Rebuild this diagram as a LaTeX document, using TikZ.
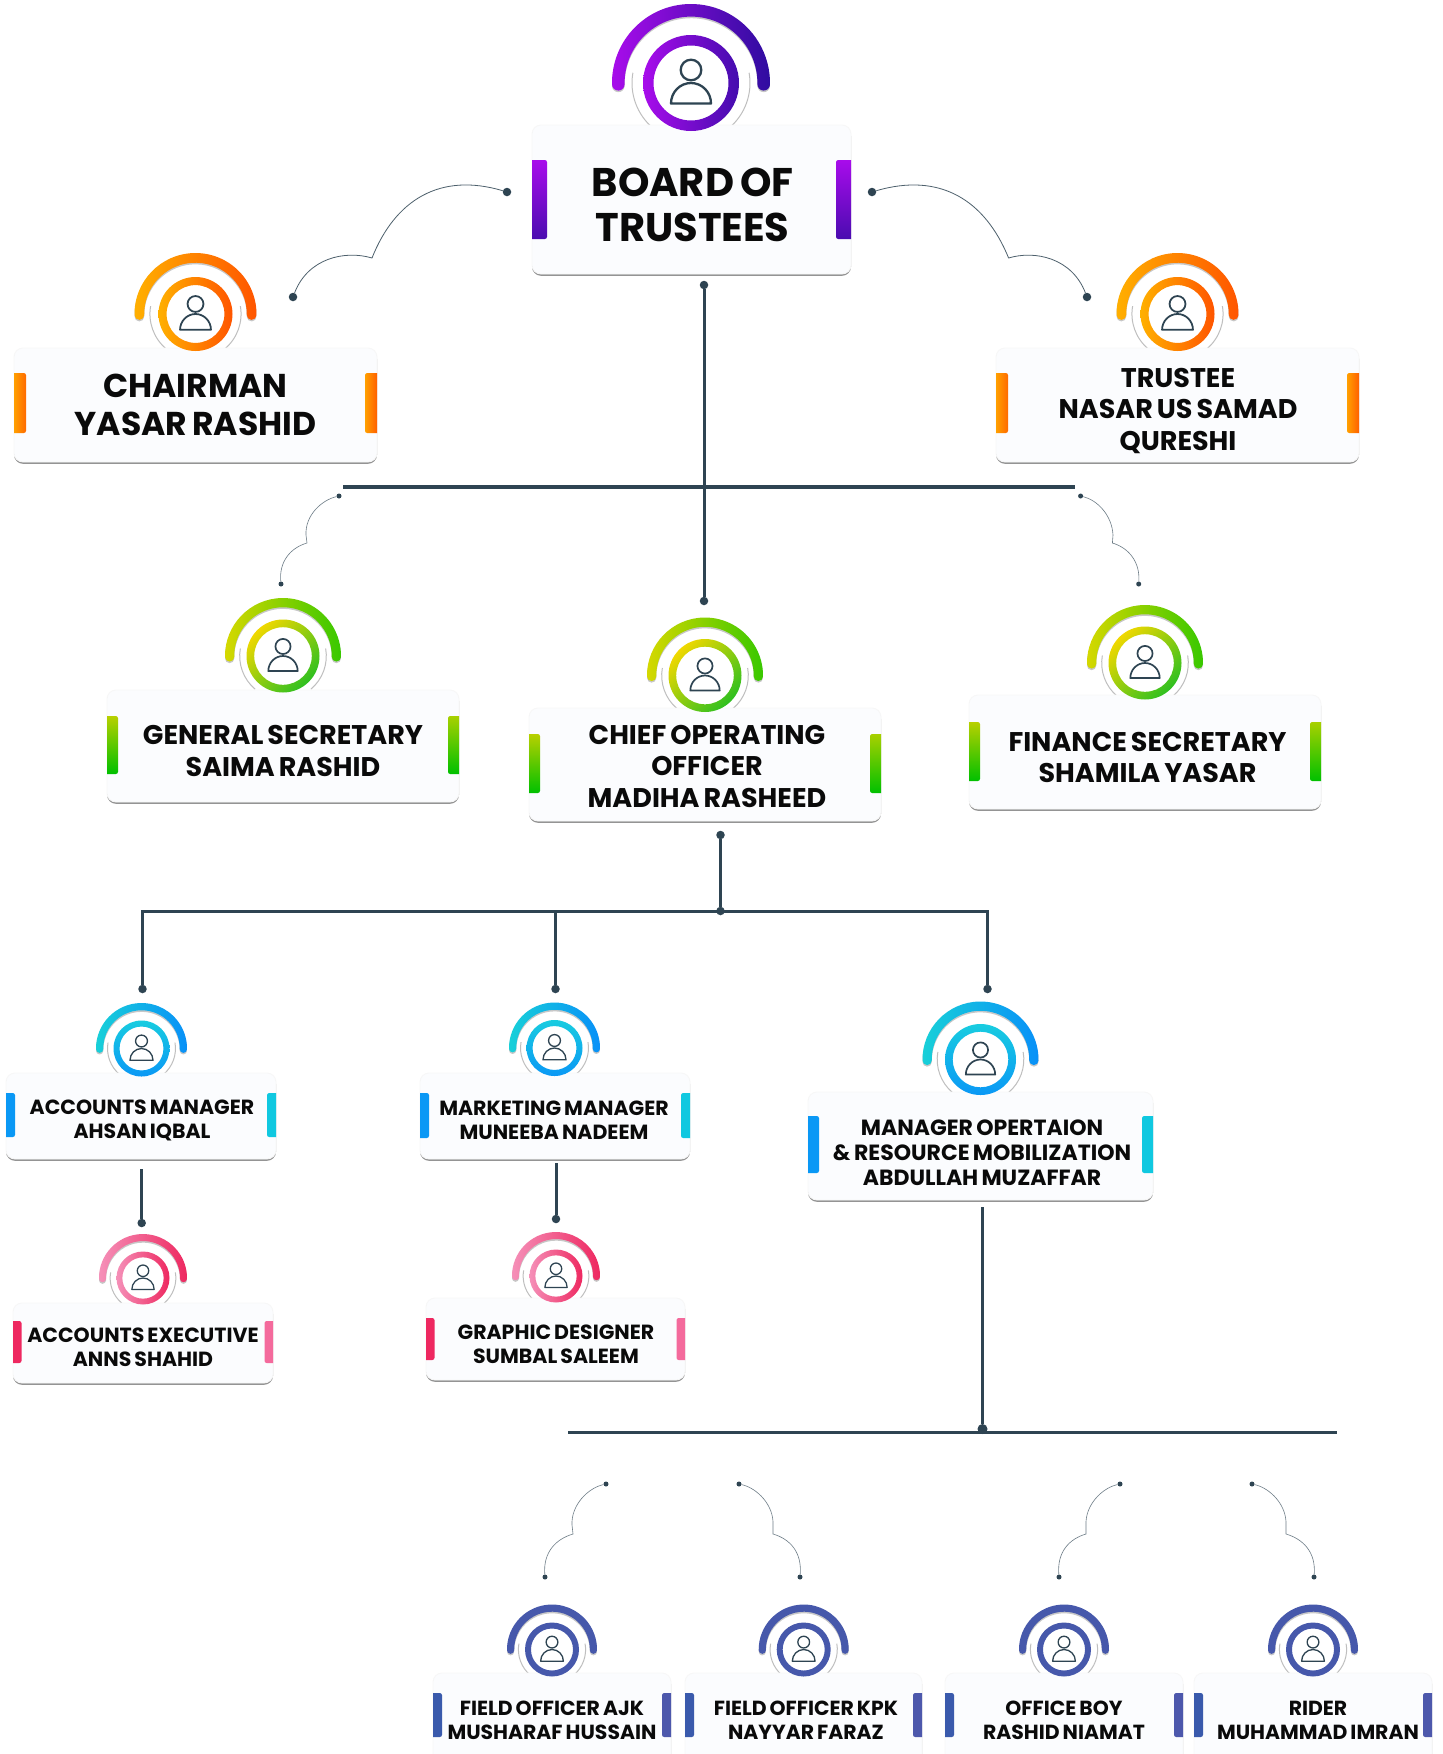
\documentclass[tikz,border=0pt]{standalone}
\usepackage{fontspec}
\newfontfamily\cardfont[WordSpace=0.7]{Poppins}
\definecolor{lnk}{HTML}{2E4452}
\definecolor{cardbg}{HTML}{FBFCFE}
\definecolor{txt}{HTML}{0A0A0A}
\definecolor{A80CEB}{HTML}{A80CEB}\definecolor{2F0CA0}{HTML}{2F0CA0}\definecolor{440CAE}{HTML}{440CAE}
\definecolor{4A0CB0}{HTML}{4A0CB0}\definecolor{FFB000}{HTML}{FFB000}\definecolor{FF5500}{HTML}{FF5500}
\definecolor{FFA000}{HTML}{FFA000}\definecolor{FF6A00}{HTML}{FF6A00}\definecolor{FF6000}{HTML}{FF6000}
\definecolor{D6D800}{HTML}{D6D800}\definecolor{38C800}{HTML}{38C800}\definecolor{F0D800}{HTML}{F0D800}
\definecolor{2EC020}{HTML}{2EC020}\definecolor{B8D000}{HTML}{B8D000}\definecolor{00C000}{HTML}{00C000}
\definecolor{A8D000}{HTML}{A8D000}\definecolor{18D0D8}{HTML}{18D0D8}\definecolor{0890F8}{HTML}{0890F8}
\definecolor{18CCE0}{HTML}{18CCE0}\definecolor{0A98F5}{HTML}{0A98F5}\definecolor{10C8E0}{HTML}{10C8E0}
\definecolor{F590B8}{HTML}{F590B8}\definecolor{EE2860}{HTML}{EE2860}\definecolor{F46A9C}{HTML}{F46A9C}
\definecolor{4658AB}{HTML}{4658AB}\definecolor{3A5AAC}{HTML}{3A5AAC}\definecolor{4D58AC}{HTML}{4D58AC}
\tikzset{
  purplearc/.style={left color=A80CEB,right color=2F0CA0},
  purplering/.style={left color=A80CEB,right color=440CAE},
  purplebarL/.style={top color=A80CEB,bottom color=4A0CB0},
  purplebarR/.style={top color=A80CEB,bottom color=4A0CB0},
  orangearc/.style={left color=FFB000,right color=FF5500},
  orangering/.style={left color=FFB000,right color=FF5500},
  orangebarL/.style={left color=FFA000,right color=FF6A00},
  orangebarR/.style={left color=FFA000,right color=FF6000},
  greenarc/.style={left color=D6D800,right color=38C800},
  greenring/.style={top color=F0D800,bottom color=2EC020,shading angle=45},
  greenbarL/.style={top color=B8D000,bottom color=00C000},
  greenbarR/.style={top color=A8D000,bottom color=00C000},
  bluearc/.style={left color=18D0D8,right color=0890F8},
  bluering/.style={top color=18CCE0,bottom color=0A98F5},
  bluebarL/.style={fill=0A98F5},
  bluebarR/.style={fill=10C8E0},
  pinkarc/.style={left color=F590B8,right color=EE2860},
  pinkring/.style={left color=F590B8,right color=EE2860},
  pinkbarL/.style={fill=EE2860},
  pinkbarR/.style={fill=F46A9C},
  navyarc/.style={fill=4658AB},
  navyring/.style={fill=4658AB},
  navybarL/.style={fill=3A5AAC},
  navybarR/.style={fill=4D58AC},
  cardbox/.style={rectangle,rounded corners=9pt,fill=cardbg,draw=black!3,line width=0.8pt,inner sep=0pt,outer sep=0pt,
     preaction={fill=black!42,transform canvas={yshift=-1.8pt}}},
  cardlabel/.style={align=center,inner sep=0pt,text=txt},
  linkdot/.style={circle,fill=lnk,inner sep=0pt,minimum size=10pt},
  smalldot/.style={circle,fill=lnk,inner sep=0pt,minimum size=5pt},
  middot/.style={circle,fill=lnk,inner sep=0pt,minimum size=8.5pt},
  trunk/.style={draw=lnk,line width=3.2pt},
  stem/.style={draw=lnk,line width=3pt},
  hairlink/.style={draw=lnk!85,line width=0.8pt},
  hairlinksmall/.style={draw=lnk!70,line width=0.6pt},
}
% \Card{id}{theme}{cx,cy,R,ringR}{x0,y0,x1,y1}{by0,by1,bw}{tx,ty,fs,ls}{text}
\def\parseI#1,#2,#3,#4;{\def\cx{#1}\def\cy{#2}\def\Ro{#3}\def\Rr{#4}}
\def\parseB#1,#2,#3,#4;{\def\xa{#1}\def\ya{#2}\def\xb{#3}\def\yb{#4}}
\def\parseS#1,#2,#3;{\def\sa{#1}\def\sb{#2}\def\sw{#3}}
\def\parseT#1,#2,#3,#4;{\def\tx{#1}\def\ty{#2}\def\tfs{#3}\def\tls{#4}}
\newcommand{\Card}[7]{%
  \parseI#3;\parseB#4;\parseS#5;\parseT#6;%
  \pgfmathsetmacro\kk{\Ro/79}
  \pgfmathsetmacro\aw{12.6*\kk}
  \pgfmathsetmacro\Ri{\Ro-\aw}
  \pgfmathsetmacro\Rm{\Ro-\aw/2}
  \pgfmathsetmacro\cap{\aw/2}
  \pgfmathsetmacro\rw{10.5*\kk}
  \pgfmathsetmacro\Rq{\Rr-\rw}
  \pgfmathsetmacro\Rd{59*\kk}
  \pgfmathsetmacro\bw{\xb-\xa}
  \pgfmathsetmacro\bh{\yb-\ya}
  \pgfmathsetmacro\bx{(\xa+\xb)/2}
  \pgfmathsetmacro\by{(\ya+\yb)/2}
  \pgfmathsetmacro\sxa{\xa+\sw}
  \pgfmathsetmacro\sxb{\xb-\sw}
  \fill[white] (\cx,-\cy) circle[radius=\Rd];
  \draw[black!25,line width=1pt] (\cx,-\cy)+(-50:\Rd) arc[start angle=-50,end angle=10,radius=\Rd];
  \draw[black!25,line width=1pt] (\cx,-\cy)+(170:\Rd) arc[start angle=170,end angle=230,radius=\Rd];
  \node[cardbox,minimum width=\bw pt,minimum height=\bh pt] (#1) at (\bx,-\by) {};
  \draw[black,opacity=0.22,line width=\aw pt,line cap=round] (\cx,-\cy)++(0,-1.6)+(-1:\Rm) arc[start angle=-1,end angle=181,radius=\Rm];
  \path[#2arc] (\cx,-\cy)++(181:\Ro) arc[start angle=181,end angle=-1,radius=\Ro]
     arc[start angle=-1,end angle=-181,radius=\cap]
     arc[start angle=-1,end angle=181,radius=\Ri]
     arc[start angle=1,end angle=-179,radius=\cap] -- cycle;
  \fill[white] (\cx,-\cy) circle[radius=\Rq];
  \path[#2ring,even odd rule] (\cx,-\cy) circle[radius=\Rr] circle[radius=\Rq];
  \draw[lnk,line width=2.3*\kk pt,line join=round] (\cx,-\cy)++(0,13*\kk) circle[radius=10.3*\kk];
  \draw[lnk,line width=2.3*\kk pt,line join=round] (\cx,-\cy)++(-20*\kk,-20.5*\kk)
     arc[start angle=180,end angle=0,x radius=20*\kk,y radius=20.5*\kk] -- cycle;
  \path[#2barL] (\xa,-\sa) [rounded corners=2.2pt] -- (\sxa,-\sa) -- (\sxa,-\sb) [sharp corners] -- (\xa,-\sb) -- cycle;
  \path[#2barR] (\xb,-\sb) [rounded corners=2.2pt] -- (\sxb,-\sb) -- (\sxb,-\sa) [sharp corners] -- (\xb,-\sa) -- cycle;
  \node[cardlabel,font=\cardfont\bfseries\fontsize{\tfs}{\tls}\selectfont] (#1-t) at (\tx,-\ty) {#7};
}
\begin{document}
\begin{tikzpicture}[x=1pt,y=1pt]
\useasboundingbox (0,0) rectangle (1443,-1754);
\fill[white] (0,0) rectangle (1443,-1754);
\clip (0,0) rectangle (1443,-1754);

\Card{board}{purple}{691,83,79,48}{532,125,851,274}{160,239,15}{692.5,205,40,45}{BOARD OF\\TRUSTEES}
\Card{chair}{orange}{195.5,314,61,37}{14,348,377,462}{373,433,12}{195.5,404.5,33,38}{CHAIRMAN\\YASAR RASHID}
\Card{trustee}{orange}{1177.5,314,61,37}{996,348,1359,462}{373,433,12}{1178,410.5,27,31.5}{TRUSTEE\\NASAR US SAMAD\\QURESHI}
\Card{gensec}{green}{283,656,58,36.5}{107,690,459,802}{716,774,11}{283,750.5,27,32}{GENERAL SECRETARY\\SAIMA RASHID}
\Card{coo}{green}{705,675.5,58,36.5}{529,708,881,821}{734,793,11}{707,766,27,31.5}{CHIEF OPERATING\\OFFICER\\MADIHA RASHEED}
\Card{finsec}{green}{1145,663,58,36.5}{969,695,1321,809}{722,781,11}{1147.5,757.5,27,31.5}{FINANCE SECRETARY\\SHAMILA YASAR}
\Card{accmgr}{blue}{141.5,1048.5,45.5,28}{6,1073,276,1159}{1093,1137,9}{142,1120,20.5,24}{ACCOUNTS MANAGER\\AHSAN IQBAL}
\Card{mktmgr}{blue}{554.5,1048,45.5,28}{420,1073,690,1159}{1093,1138,9}{554,1120.5,20.5,24}{MARKETING MANAGER\\MUNEEBA NADEEM}
\Card{opsmgr}{blue}{980.5,1059.5,58,35.5}{808,1092,1153,1200}{1116,1173,11}{982,1152.5,22,25}{MANAGER OPERTAION\\\&\,RESOURCE MOBILIZATION\\ABDULLAH MUZAFFAR}
\Card{accexe}{pink}{143,1278,44,26.5}{13,1303,273,1383}{1321,1363,8.5}{143,1347,20.5,24}{ACCOUNTS EXECUTIVE\\ANNS SHAHID}
\Card{graphic}{pink}{556,1276,44,26.5}{426,1298,685,1380}{1318,1360,8.5}{556,1344,20.5,24}{GRAPHIC DESIGNER\\SUMBAL SALEEM}
\Card{fieldajk}{navy}{552,1649.5,45,27}{433,1673,671,1790}{1693,1737,9}{552,1720,20.4,24}{FIELD OFFICER AJK\\MUSHARAF HUSSAIN}
\Card{fieldkpk}{navy}{803.7,1649.5,45,27}{685,1673,922,1790}{1693,1737,9}{806,1720,20.4,24}{FIELD OFFICER KPK\\NAYYAR FARAZ}
\Card{office}{navy}{1064,1649.5,45,27}{945,1673,1183,1790}{1693,1737,9}{1064,1720,20.4,24}{OFFICE BOY\\RASHID NIAMAT}
\Card{rider}{navy}{1313,1649.5,45,27}{1194,1673,1432,1790}{1693,1737,9}{1318,1720,20.4,24}{RIDER\\MUHAMMAD IMRAN}

% board links
\node[middot] (bl) at (507,-192) {};
\coordinate (blk) at (372,-258);
\node[middot] (bld) at (293,-297) {};
\draw[hairlink] (bl) .. controls (440,-172) and (395,-200) .. (blk) .. controls (345,-250) and (308,-258) .. (bld);
\node[middot] (br) at (872,-192) {};
\coordinate (brk) at (1008.6,-258);
\node[middot] (brd) at (1087,-297) {};
\draw[hairlink] (br) .. controls (940,-172) and (985,-200) .. (brk) .. controls (1035,-250) and (1072,-258) .. (brd);

% main trunk
\node[middot] (t1) at (704,-285) {};
\node[middot] (t2) at (704,-601) {};
\draw[stem] (t1) -- (t2);
\coordinate (h1a) at (343,-487);
\coordinate (h1b) at (1074.5,-487);
\draw[trunk] (h1a) -- (h1b);

% second row hairlines
\node[smalldot] (gl) at (339,-496) {};
\coordinate (glk) at (307,-543);
\coordinate (glk0) at (306,-535);
\node[smalldot] (gld) at (281,-584) {};
\draw[hairlinksmall] (gl) .. controls (322,-500) and (305,-515) .. (glk0) -- (glk) .. controls (290,-548) and (279,-562) .. (gld);
\node[smalldot] (fl) at (1080.6,-496) {};
\coordinate (flk) at (1112.4,-543);
\coordinate (flk0) at (1113,-535);
\node[smalldot] (fld) at (1138.7,-584) {};
\draw[hairlinksmall] (fl) .. controls (1097,-500) and (1112,-515) .. (flk0) -- (flk) .. controls (1129,-548) and (1140,-562) .. (fld);

% COO tree
\node[middot] (c1) at (720.5,-835) {};
\node[middot] (c2) at (720.5,-911) {};
\draw[stem] (c1) -- (c2);
\coordinate (e1) at (142.5,-911);
\coordinate (e3) at (987.5,-911);
\node[middot] (d1) at (142.5,-989) {};
\node[middot] (d2) at (555.5,-989) {};
\node[middot] (d3) at (987.5,-989) {};
\draw[stem] (d1) -- (e1) -- (e3) -- (d3);
\coordinate (e2) at (555.5,-911);
\draw[stem,line width=2.4pt] (d2) -- (e2);

\coordinate (s1) at (141.7,-1169);
\node[middot] (s1d) at (141.7,-1223) {};
\draw[stem] (s1) -- (s1d);
\coordinate (s2) at (556,-1163);
\node[middot] (s2d) at (556,-1219) {};
\draw[stem] (s2) -- (s2d);

% operations trunk
\coordinate (o1) at (982.5,-1207);
\node[linkdot] (o2) at (982.5,-1429) {};
\draw[stem] (o1) -- (o2);
\coordinate (h2a) at (568,-1432.5);
\coordinate (h2b) at (1337,-1432.5);
\draw[trunk] (h2a) -- (h2b);

% bottom hairlines
\node[smalldot] (a1) at (606,-1484) {};
\coordinate (a2) at (573,-1534);
\coordinate (a20) at (572,-1525);
\node[smalldot] (a3) at (545,-1577) {};
\draw[hairlinksmall] (a1) .. controls (588,-1488) and (571,-1505) .. (a20) -- (a2) .. controls (556,-1539) and (543,-1552) .. (a3);
\node[smalldot] (k1) at (739,-1484) {};
\coordinate (k2) at (773,-1534);
\coordinate (k20) at (773,-1525);
\node[smalldot] (k3) at (800,-1577) {};
\draw[hairlinksmall] (k1) .. controls (757,-1488) and (774,-1505) .. (k20) -- (k2) .. controls (790,-1539) and (802,-1552) .. (k3);
\node[smalldot] (b1) at (1120,-1484) {};
\coordinate (b2) at (1086,-1534);
\coordinate (b20) at (1086,-1525);
\node[smalldot] (b3) at (1059,-1577) {};
\draw[hairlinksmall] (b1) .. controls (1102,-1488) and (1085,-1505) .. (b20) -- (b2) .. controls (1069,-1539) and (1057,-1552) .. (b3);
\node[smalldot] (r1) at (1252,-1484) {};
\coordinate (r2) at (1286,-1534);
\coordinate (r20) at (1286,-1525);
\node[smalldot] (r3) at (1314,-1577) {};
\draw[hairlinksmall] (r1) .. controls (1270,-1488) and (1287,-1505) .. (r20) -- (r2) .. controls (1303,-1539) and (1316,-1552) .. (r3);
\end{tikzpicture}
\end{document}
